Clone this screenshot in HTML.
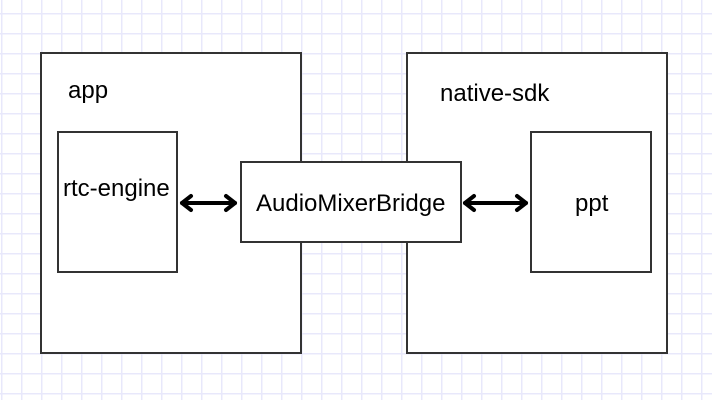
<!DOCTYPE html>
<html><head><meta charset="utf-8"><style>
body{margin:0;width:712px;height:400px;overflow:hidden;background:#fff;}
svg{display:block}
text{font-family:"Liberation Sans",Arial,sans-serif;font-size:24px;fill:#000}
</style></head><body>
<svg width="712" height="400" viewBox="0 0 712 400" xmlns="http://www.w3.org/2000/svg">
<defs>
<pattern id="g" x="1" y="13" width="20" height="20" patternUnits="userSpaceOnUse">
<path d="M0.5 0V20M0 0.5H20" stroke="#e8e8fb" stroke-width="2" fill="none"/>
</pattern>
</defs>
<rect width="712" height="400" fill="url(#g)"/>
<g stroke="#333" stroke-width="2" fill="#fff">
<rect x="41" y="53" width="260" height="300"/>
<rect x="407" y="53" width="260" height="300"/>
<rect x="58" y="132" width="119" height="140"/>
<rect x="531" y="132" width="120" height="140"/>
<rect x="241" y="162" width="220" height="80"/>
</g>
<text x="68" y="98" font-size="22">app</text>
<text x="440" y="101" font-size="22">native-sdk</text>
<text x="63" y="196">rtc-engine</text>
<text x="575" y="211">ppt</text>
<text x="256" y="211">AudioMixerBridge</text>
<g stroke="#000" stroke-width="4" fill="none" stroke-linecap="round" stroke-linejoin="round">
<path d="M182 203H235"/>
<path d="M191 196L182 203L191 210"/>
<path d="M226 196L235 203L226 210"/>
<path d="M465 203H526"/>
<path d="M474 196L465 203L474 210"/>
<path d="M517 196L526 203L517 210"/>
</g>
</svg>
</body></html>
